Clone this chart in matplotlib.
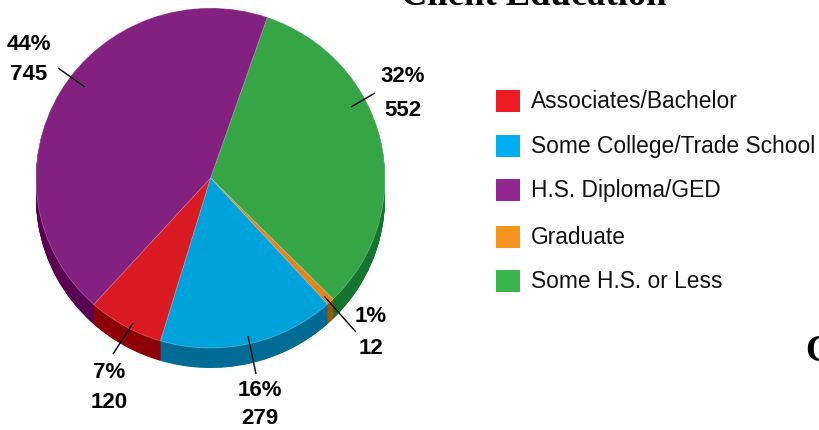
import matplotlib
matplotlib.use("Agg")
import matplotlib.pyplot as plt
from matplotlib.patches import Rectangle

# data (clockwise from the top of the green slice)
categories = ["Some H.S. or Less", "Graduate", "Some College/Trade School", "Associates/Bachelor", "H.S. Diploma/GED"]
counts = [552, 12, 279, 120, 745]
percents = [32, 1, 16, 7, 44]
top_colors = ["#35a546", "#e0861c", "#00a2dc", "#d91a22", "#82217f"]
side_colors = ["#14762e", "#98590a", "#006c96", "#8e0007", "#5a0052"]

legend_order = ["Associates/Bachelor", "Some College/Trade School", "H.S. Diploma/GED", "Graduate", "Some H.S. or Less"]
legend_colors = ["#ee1c25", "#00aeef", "#92278f", "#f7941d", "#39b54a"]

W, H = 819, 430
cx, cy, rx, ry = 210.5, 178, 174.5, 170
depth = 20
start = 71
sans = "Liberation Sans"
serif = "Liberation Serif"

fig = plt.figure(figsize=(W / 100, H / 100), dpi=100, facecolor="white")

# pie axes: data units are radii, so the unit circle renders as the ellipse
ax = fig.add_axes([0, 0, 1, 1])
for step in range(depth * 2, 0, -1):
    off = step / 2 / ry
    ax.pie(counts, colors=side_colors, startangle=start, counterclock=False,
           center=(0, -off), radius=1, wedgeprops=dict(linewidth=0))
ax.pie(counts, colors=top_colors, startangle=start, counterclock=False,
       center=(0, 0), radius=1,
       wedgeprops=dict(linewidth=0.5, edgecolor=(1, 1, 1, 0.35)))
ax.set_aspect("auto")
ax.set_xlim((0 - cx) / rx, (W - cx) / rx)
ax.set_ylim((cy - H) / ry, (cy - 0) / ry)
ax.axis("off")

# overlay axes in pixel coordinates
ov = fig.add_axes([0, 0, 1, 1])
ov.set_xlim(0, W)
ov.set_ylim(H, 0)
ov.axis("off")
ov.patch.set_alpha(0)

# slice labels: centre x, y of percent line, y of count line; leader from/to
placement = {
    "H.S. Diploma/GED": (29, 45, 75, (58, 68), (85, 87)),
    "Some H.S. or Less": (403, 77, 110, (375, 93), (351, 107)),
    "Graduate": (371, 317, 348, (324.5, 296.5), (355.7, 331.7)),
    "Associates/Bachelor": (109, 373, 403, (133, 323), (113, 354)),
    "Some College/Trade School": (260, 390, 418, (248, 336), (256, 374)),
}
for name, count, pct in zip(categories, counts, percents):
    x, y1, y2, a, b = placement[name]
    ov.text(x, y1, f"{pct}%", ha="center", va="center", family=sans,
            weight="bold", fontsize=16, color="black")
    ov.text(x, y2, f"{count}", ha="center", va="center", family=sans,
            weight="bold", fontsize=16, color="black")
    ov.plot([a[0], b[0]], [a[1], b[1]], color="black", lw=1.0, solid_capstyle="butt")

# legend
legend_y = [101, 146, 190, 237, 281]
for name, color, y in zip(legend_order, legend_colors, legend_y):
    ov.add_patch(Rectangle((496, y - 11), 24, 22, facecolor=color, edgecolor="none"))
    ov.text(531, y + 1, name, ha="left", va="center", family=sans,
            fontsize=16.4, color="#111111")

# clipped headings
ov.text(534, 5, "Client Education", ha="center", va="baseline", family=serif,
        weight="bold", fontsize=26.4, color="black")
ov.text(805, 361, "C", ha="left", va="baseline", family=serif,
        weight="bold", fontsize=26.4, color="black")

fig.savefig("out.png", dpi=100)
